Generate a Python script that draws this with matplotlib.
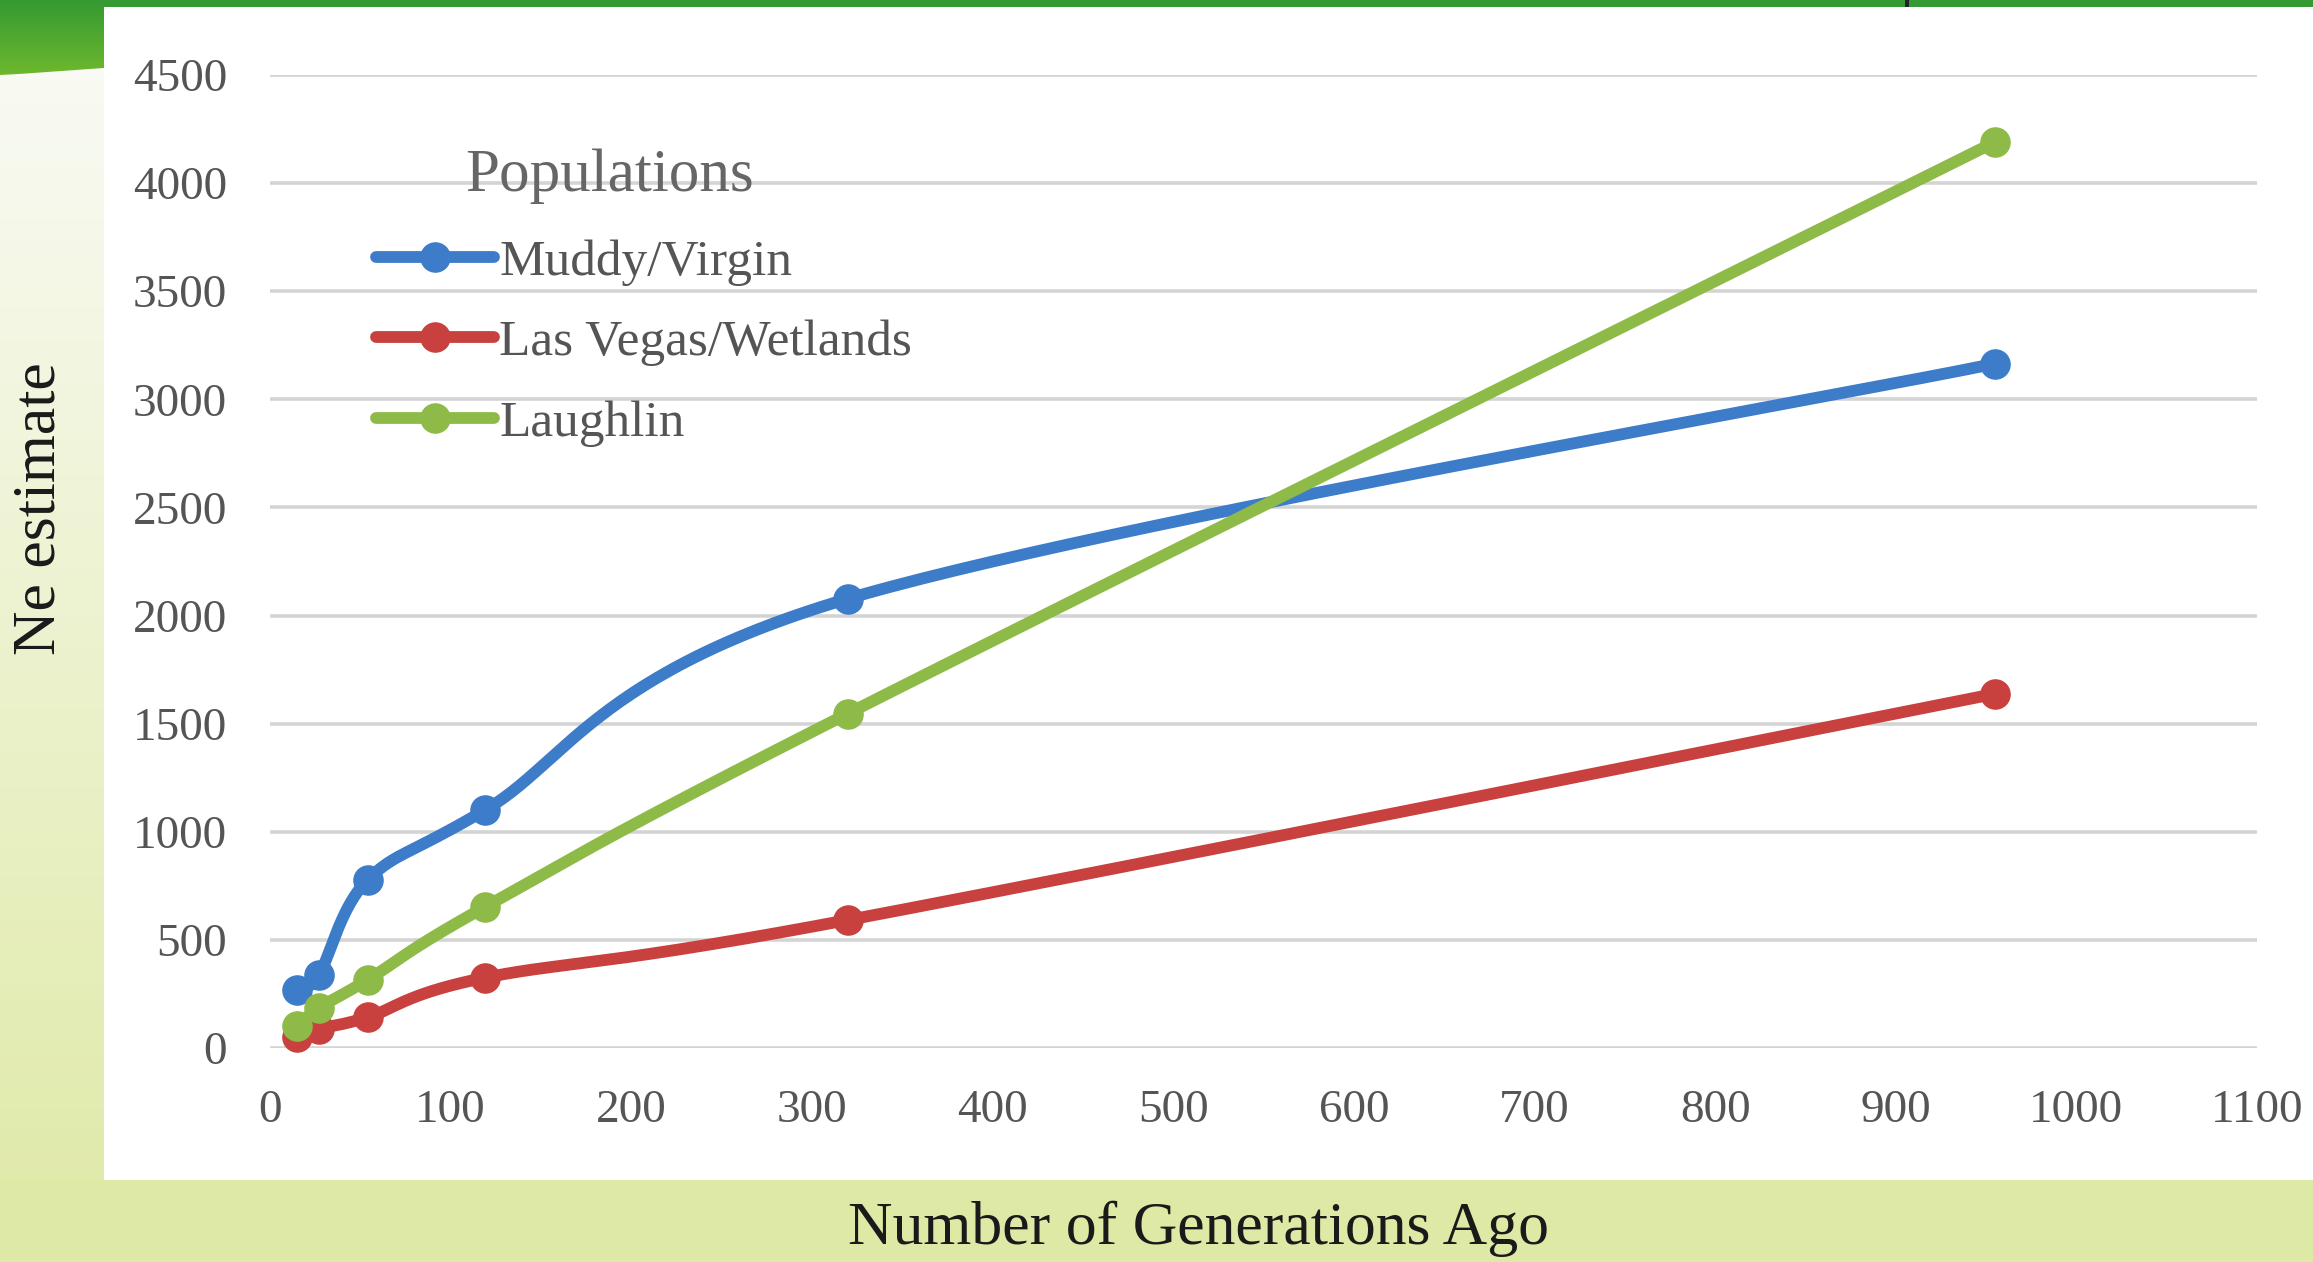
import numpy as np
import matplotlib
matplotlib.use("Agg")
import matplotlib.pyplot as plt
from matplotlib.patches import Rectangle, PathPatch
from matplotlib.path import Path
from matplotlib.lines import Line2D

# Data: effective population size estimates vs. generations ago
generations = [15, 27, 54, 119, 320, 955]
muddy_virgin = [268, 338, 777, 1100, 2078, 3165]
las_vegas_wetlands = [52, 88, 142, 325, 592, 1638]
laughlin = [100, 185, 315, 652, 1547, 4190]
series_names = ["Muddy/Virgin", "Las Vegas/Wetlands", "Laughlin"]
x_ticks = [0, 100, 200, 300, 400, 500, 600, 700, 800, 900, 1000, 1100]
y_ticks = [0, 500, 1000, 1500, 2000, 2500, 3000, 3500, 4000, 4500]

colors = ["#3d7cc9", "#c8413f", "#8ebb48"]
W, H = 2313, 1262
DPI = 100
SERIF = "Liberation Serif"
LINE_W = 8.5
MARKER = 21


def smooth_curve(xs, ys, n=60):
    """Spreadsheet-style smoothed line: cubic Bezier segments with
    Catmull-Rom control points (end points duplicated)."""
    pts = np.column_stack([xs, ys]).astype(float)
    ext = np.vstack([pts[0], pts, pts[-1]])
    t = np.linspace(0, 1, n)[:, None]
    out = []
    for i in range(len(pts) - 1):
        p0, p1, p2, p3 = ext[i], ext[i + 1], ext[i + 2], ext[i + 3]
        c1 = p1 + (p2 - p0) / 6.0
        c2 = p2 - (p3 - p1) / 6.0
        seg = ((1 - t) ** 3) * p1 + 3 * ((1 - t) ** 2) * t * c1 \
            + 3 * (1 - t) * (t ** 2) * c2 + (t ** 3) * p2
        out.append(seg if i == 0 else seg[1:])
    return np.vstack(out)


fig = plt.figure(figsize=(W / DPI, H / DPI), dpi=DPI, facecolor="white")

# ---- slide background, drawn in pixel coordinates ----
bg = fig.add_axes([0, 0, 1, 1], zorder=-10)
bg.set_xlim(0, W)
bg.set_ylim(H, 0)
bg.axis("off")

# left strip: pale to yellow-green vertical gradient
grad = np.linspace(0, 1, 256)[:, None]
top_c = np.array([0.975, 0.982, 0.955])
bot_c = np.array([0.875, 0.914, 0.651])
img = top_c[None, None, :] * (1 - grad[:, :, None]) + bot_c[None, None, :] * grad[:, :, None]
bg.imshow(img, extent=[0, 104, H, 70], aspect="auto", zorder=0)

# bottom band
bg.add_patch(Rectangle((0, 1180), W, H - 1180, facecolor="#dfe9a6", edgecolor="none", zorder=1))

# white chart panel
bg.add_patch(Rectangle((104, 6), W - 104, 1174, facecolor="white", edgecolor="none", zorder=2))

# top green bar with small dark divider
bg.add_patch(Rectangle((0, 0), W, 7, facecolor="#359a33", edgecolor="none", zorder=3))
bg.add_patch(Rectangle((1905, 0), 4, 7, facecolor="#222222", edgecolor="none", zorder=4))

# top-left green tab with curved lower edge
tab_verts = [(0, 0), (104, 0), (104, 68), (60, 71), (30, 73.5), (0, 75), (0, 0)]
tab_codes = [Path.MOVETO, Path.LINETO, Path.LINETO, Path.CURVE4, Path.CURVE4, Path.CURVE4, Path.CLOSEPOLY]
tab_patch = PathPatch(Path(tab_verts, tab_codes), facecolor="none", edgecolor="none")
bg.add_patch(tab_patch)
tab_top = np.array([0.204, 0.604, 0.196])
tab_bot = np.array([0.435, 0.722, 0.180])
tab_img = tab_top[None, None, :] * (1 - grad[:, :, None]) + tab_bot[None, None, :] * grad[:, :, None]
im = bg.imshow(tab_img, extent=[0, 104, 76, 0], aspect="auto", zorder=5)
im.set_clip_path(tab_patch)

# ---- chart axes ----
x0_px, x1_px = 270, 2257
y0_px, y1_px = 1048, 75
ax = fig.add_axes([x0_px / W, 1 - y0_px / H, (x1_px - x0_px) / W, (y0_px - y1_px) / H])
ax.set_facecolor("none")
ax.set_xlim(0, 1100)
ax.set_ylim(0, 4500)
for s in ax.spines.values():
    s.set_visible(False)
ax.set_xticks(x_ticks)
ax.set_yticks(y_ticks)
ax.tick_params(length=0, labelsize=34, labelcolor="#555555")
ax.tick_params(axis="y", pad=31)
ax.tick_params(axis="x", pad=30)
for lab in ax.get_xticklabels() + ax.get_yticklabels():
    lab.set_fontfamily(SERIF)
ax.grid(axis="y", color="#d4d4d4", linewidth=2.6)
ax.set_axisbelow(True)

handles = []
for ys, c, name in zip([muddy_virgin, las_vegas_wetlands, laughlin], colors, series_names):
    curve = smooth_curve(generations, ys)
    ax.plot(curve[:, 0], curve[:, 1], color=c, linewidth=LINE_W, solid_capstyle="round",
            clip_on=False, zorder=3)
    ax.plot(generations, ys, linestyle="none", marker="o", markersize=MARKER,
            color=c, clip_on=False, zorder=4)
    handles.append(Line2D([], [], color=c, linewidth=LINE_W, marker="o", markersize=MARKER,
                          solid_capstyle="round"))

# legend
fig.text(465 / W, 1 - 176 / H, "Populations", fontsize=44, family=SERIF,
         color="#666666", ha="left", va="center")
leg = ax.legend(handles, series_names, loc="upper left",
                bbox_to_anchor=(376 / W, 1 - 239 / H), bbox_transform=fig.transFigure,
                frameon=False, prop={"family": SERIF, "size": 37},
                handlelength=2.3, handletextpad=0.1, labelspacing=0.65, borderpad=0,
                borderaxespad=0)
for t in leg.get_texts():
    t.set_color("#555555")

# axis titles
fig.text(1198 / W, 1 - 1229 / H, "Number of Generations Ago", fontsize=44.5,
         family=SERIF, color="#1a1a1a", ha="center", va="center")
fig.text(40 / W, 1 - 509 / H, "Ne estimate", fontsize=44.5, family=SERIF,
         color="#1a1a1a", ha="center", va="center", rotation=90)

fig.savefig("out.png", dpi=DPI, facecolor=fig.get_facecolor())
